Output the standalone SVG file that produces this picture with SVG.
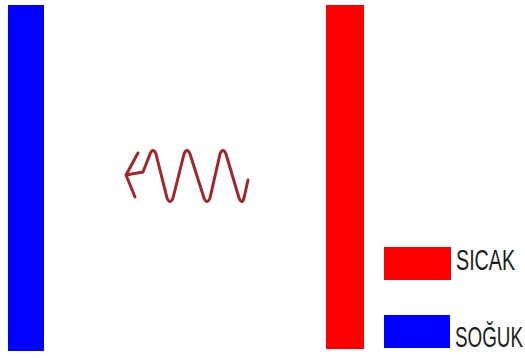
<svg xmlns="http://www.w3.org/2000/svg" width="525" height="358" viewBox="0 0 525 358">
<style>
.lbl{font-family:"Liberation Sans",Arial,sans-serif;font-size:29px;fill:#1e1e1e;}
.wave{fill:none;stroke:#a3262c;stroke-width:3;stroke-linejoin:round;stroke-linecap:round;}
</style>
<rect width="525" height="358" fill="#fff"/>
<g id="cold-wall"><rect x="8" y="5" width="36" height="346" fill="#0000ff"/></g>
<g id="hot-wall"><rect x="326" y="5" width="38" height="344" fill="#ff0000"/></g>
<g id="connectors">
<path class="wave" d="M138,153 L126,175 L135,197 M126,175 L143,172 L150,154 Q153,147 156,154 L167,198 Q170,205 173,198 L184,154 Q187,147 190,154 L204,198 Q207,205 210,198 L220,154 Q223,147 226,154 L239,198 Q242,205 244,198 L248,180"/>
</g>
<g id="legend-hot"><rect x="384" y="247" width="67" height="33" fill="#ff0000"/><text class="lbl" transform="translate(456,270) scale(0.68,1)">SICAK</text></g>
<g id="legend-cold"><rect x="384" y="315" width="66" height="33" fill="#0000ff"/><text class="lbl" transform="translate(455,347) scale(0.65,1)">SOĞUK</text></g>
</svg>
